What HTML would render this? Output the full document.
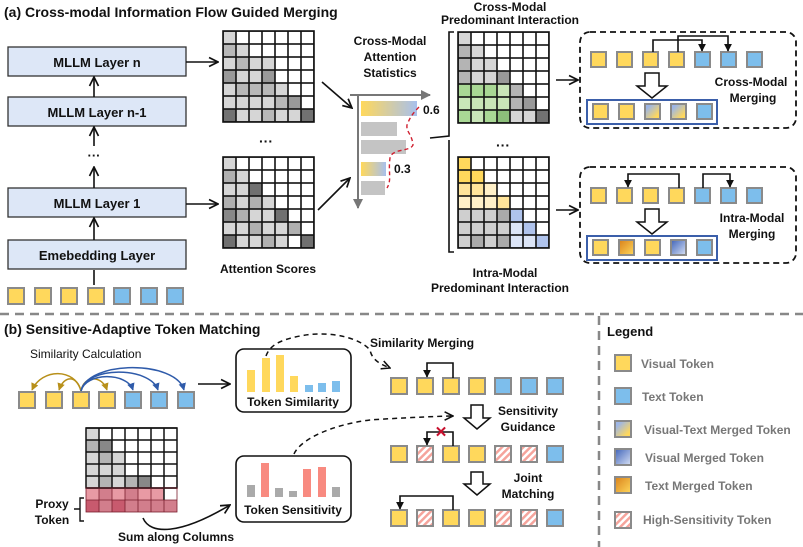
<!DOCTYPE html>
<html><head><meta charset="utf-8"><style>
body{margin:0;background:#fff}
svg{display:block;font-family:"Liberation Sans",sans-serif}
.y{fill:#FFD85C;stroke:#8a8a8a;stroke-width:2}
.b{fill:#7DBEEC;stroke:#8a8a8a;stroke-width:2}
.h{fill:url(#hatch);stroke:#8a8a8a;stroke-width:2}
.t{font-weight:bold;fill:#111}
.lg{fill:#777;font-weight:bold;font-size:12px}
.ln{stroke:#111;stroke-width:1.6;fill:none}
</style></head><body>
<svg width="803" height="547" viewBox="0 0 803 547" xmlns="http://www.w3.org/2000/svg">
<defs>
<marker id="ar" viewBox="0 0 10 10" refX="9" refY="5" markerWidth="7" markerHeight="7" orient="auto-start-reverse"><path d="M1,1 L9,5 L1,9" fill="none" stroke="#111" stroke-width="1.5"/></marker>
<marker id="af" viewBox="0 0 10 10" refX="9" refY="5" markerWidth="5" markerHeight="5" orient="auto"><path d="M0,0 L10,5 L0,10z" fill="#111"/></marker>
<marker id="ay" viewBox="0 0 10 10" refX="9" refY="5" markerWidth="5" markerHeight="5" orient="auto"><path d="M0,0 L10,5 L0,10z" fill="#B8901A"/></marker>
<marker id="ab" viewBox="0 0 10 10" refX="9" refY="5" markerWidth="5" markerHeight="5" orient="auto"><path d="M0,0 L10,5 L0,10z" fill="#2F5BAA"/></marker>
<marker id="ag" viewBox="0 0 10 10" refX="9" refY="5" markerWidth="5" markerHeight="5" orient="auto"><path d="M0,0 L10,5 L0,10z" fill="#777"/></marker>
<linearGradient id="bar" x1="0" x2="1"><stop offset="0" stop-color="#FFD85C"/><stop offset="1" stop-color="#A8C0EC"/></linearGradient>
<linearGradient id="vt" x1="0" y1="0" x2="1" y2="1"><stop offset="0.2" stop-color="#9DB6E6"/><stop offset="0.8" stop-color="#FFD85C"/></linearGradient>
<linearGradient id="vm" x1="0" y1="0" x2="1" y2="1"><stop offset="0" stop-color="#3F63B8"/><stop offset="1" stop-color="#D8E2F6"/></linearGradient>
<linearGradient id="tm" x1="0" y1="0" x2="1" y2="1"><stop offset="0" stop-color="#D9801A"/><stop offset="1" stop-color="#FFD85C"/></linearGradient>
<pattern id="hatch" width="5" height="5" patternUnits="userSpaceOnUse" patternTransform="rotate(45)"><rect width="5" height="5" fill="#fff"/><rect width="2.5" height="5" fill="#F5A49C"/></pattern>
<pattern id="grid" width="13" height="13" patternUnits="userSpaceOnUse"><rect width="13" height="13" fill="none" stroke="#111" stroke-width="1.6"/></pattern>
</defs>

<!-- (a) -->
<text x="4" y="17" class="t" font-size="14">(a) Cross-modal Information Flow Guided Merging</text>
<g font-size="13">
<rect x="8" y="47" width="178" height="29" fill="#DDE7F7" stroke="#333" stroke-width="1.3"/><text x="97" y="67" text-anchor="middle" class="t">MLLM Layer n</text>
<rect x="8" y="97" width="178" height="29" fill="#DDE7F7" stroke="#333" stroke-width="1.3"/><text x="97" y="117" text-anchor="middle" class="t">MLLM Layer n-1</text>
<text x="94" y="160" text-anchor="middle" class="t">···</text>
<rect x="8" y="188" width="178" height="29" fill="#DDE7F7" stroke="#333" stroke-width="1.3"/><text x="97" y="208" text-anchor="middle" class="t">MLLM Layer 1</text>
<rect x="8" y="240" width="178" height="29" fill="#DDE7F7" stroke="#333" stroke-width="1.3"/><text x="97" y="260" text-anchor="middle" class="t">Emebedding Layer</text>
</g>
<g class="ln" marker-end="url(#ar)">
<line x1="94" y1="97" x2="94" y2="77"/><line x1="94" y1="146" x2="94" y2="127"/><line x1="94" y1="188" x2="94" y2="167"/><line x1="94" y1="240" x2="94" y2="218"/>
<line x1="186" y1="62" x2="218" y2="62"/><line x1="186" y1="204" x2="218" y2="204"/>
<line x1="322" y1="82" x2="352" y2="108"/><line x1="318" y1="210" x2="350" y2="178"/>
</g>
<line x1="94" y1="270" x2="94" y2="285" stroke="#111" stroke-width="1.6"/>
<rect class="y" x="8" y="288" width="16" height="16"/><rect class="y" x="35" y="288" width="16" height="16"/><rect class="y" x="61" y="288" width="16" height="16"/><rect class="y" x="88" y="288" width="16" height="16"/><rect class="b" x="114" y="288" width="16" height="16"/><rect class="b" x="141" y="288" width="16" height="16"/><rect class="b" x="167" y="288" width="16" height="16"/>

<!-- top attention matrix -->
<g transform="translate(223,31)">
<rect width="91" height="91" fill="#fff"/>
<g fill="#d6d6d6"><rect x="0" y="0" width="13" height="13"/><rect x="13" y="13" width="13" height="13"/><rect x="0" y="26" width="13" height="26"/><rect x="26" y="26" width="26" height="13"/><rect x="13" y="39" width="26" height="13"/><rect x="0" y="52" width="13" height="13"/><rect x="0" y="65" width="52" height="13"/><rect x="52" y="52" width="13" height="13"/><rect x="13" y="78" width="65" height="13"/></g>
<g fill="#b8b8b8"><rect x="0" y="13" width="13" height="13"/><rect x="13" y="26" width="13" height="13"/><rect x="13" y="52" width="39" height="13"/><rect x="52" y="65" width="13" height="13"/><rect x="39" y="78" width="13" height="13"/></g>
<g fill="#999"><rect x="0" y="39" width="13" height="13"/><rect x="39" y="39" width="13" height="13"/><rect x="65" y="65" width="13" height="13"/></g>
<g fill="#727272"><rect x="0" y="78" width="13" height="13"/><rect x="78" y="78" width="13" height="13"/></g>
<rect width="91" height="91" fill="url(#grid)" stroke="#111" stroke-width="1.6"/>
</g>
<text x="266" y="146" text-anchor="middle" class="t" font-size="14">···</text>
<!-- bottom attention matrix -->
<g transform="translate(223,157)">
<rect width="91" height="91" fill="#fff"/>
<g fill="#d6d6d6"><rect x="0" y="0" width="13" height="13"/><rect x="13" y="13" width="13" height="13"/><rect x="0" y="26" width="26" height="13"/><rect x="13" y="39" width="13" height="13"/><rect x="39" y="39" width="13" height="13"/><rect x="26" y="52" width="26" height="13"/><rect x="0" y="65" width="26" height="13"/><rect x="39" y="65" width="26" height="13"/><rect x="13" y="78" width="26" height="13"/><rect x="52" y="78" width="13" height="13"/></g>
<g fill="#b0b0b0"><rect x="0" y="13" width="13" height="13"/><rect x="0" y="39" width="13" height="13"/><rect x="26" y="39" width="13" height="13"/><rect x="13" y="52" width="13" height="13"/><rect x="26" y="65" width="13" height="13"/><rect x="65" y="65" width="13" height="13"/><rect x="39" y="78" width="13" height="13"/></g>
<g fill="#888"><rect x="0" y="52" width="13" height="13"/></g>
<g fill="#707070"><rect x="26" y="26" width="13" height="13"/><rect x="52" y="52" width="13" height="13"/><rect x="0" y="78" width="13" height="13"/><rect x="78" y="78" width="13" height="13"/></g>
<rect width="91" height="91" fill="url(#grid)" stroke="#111" stroke-width="1.6"/>
</g>
<text x="268" y="273" text-anchor="middle" class="t" font-size="12">Attention Scores</text>

<!-- stats -->
<g class="t" font-size="12" text-anchor="middle"><text x="390" y="45">Cross-Modal</text><text x="390" y="61">Attention</text><text x="390" y="77">Statistics</text></g>
<line x1="358" y1="95" x2="358" y2="208" stroke="#777" stroke-width="2" marker-end="url(#ag)"/>
<line x1="350" y1="95" x2="430" y2="95" stroke="#777" stroke-width="2" marker-end="url(#ag)"/>
<rect x="361" y="101" width="56" height="15" fill="url(#bar)"/>
<rect x="361" y="122" width="36" height="14" fill="#c4c4c4"/>
<rect x="361" y="140" width="45" height="14" fill="#c4c4c4"/>
<rect x="361" y="162" width="25" height="14" fill="url(#bar)"/>
<rect x="361" y="181" width="24" height="14" fill="#c4c4c4"/>
<path d="M419,107 C414,112 410,117 407,125 C406,132 412,134 413,145 C410,152 392,148 390,158 C388,172 392,180 387,188" fill="none" stroke="#D02030" stroke-width="1.4" stroke-dasharray="4,3"/>
<text x="423" y="114" class="t" font-size="12">0.6</text>
<text x="394" y="173" class="t" font-size="12">0.3</text>
<!-- brace -->
<path d="M454,32 L449,32 L449,136 L430,138 M449,140 L449,252 L454,252" fill="none" stroke="#111" stroke-width="1.6"/>

<g class="t" font-size="12" text-anchor="middle"><text x="510" y="11">Cross-Modal</text><text x="510" y="24">Predominant Interaction</text>
<text x="505" y="277">Intra-Modal</text><text x="500" y="292">Predominant Interaction</text></g>

<!-- green matrix -->
<g transform="translate(458,32)">
<rect width="91" height="91" fill="#fff"/>
<g fill="#d6d6d6"><rect x="0" y="0" width="13" height="13"/><rect x="13" y="13" width="13" height="13"/><rect x="13" y="26" width="26" height="13"/><rect x="13" y="39" width="26" height="13"/><rect x="65" y="65" width="13" height="13"/><rect x="52" y="78" width="26" height="13"/></g>
<g fill="#b4b4b4"><rect x="0" y="13" width="13" height="13"/><rect x="0" y="26" width="13" height="13"/><rect x="0" y="39" width="13" height="13"/><rect x="52" y="52" width="13" height="13"/><rect x="52" y="65" width="13" height="13"/></g>
<g fill="#999"><rect x="39" y="39" width="13" height="13"/><rect x="65" y="65" width="13" height="13"/></g>
<rect x="78" y="78" width="13" height="13" fill="#727272"/>
<g fill="#C9E6B8"><rect x="0" y="52" width="52" height="39"/></g>
<g fill="#A9D895"><rect x="0" y="52" width="13" height="13"/><rect x="13" y="52" width="13" height="13"/><rect x="26" y="52" width="13" height="13"/><rect x="0" y="78" width="13" height="13"/><rect x="26" y="78" width="13" height="13"/></g>
<rect x="39" y="78" width="13" height="13" fill="#8CBF7A"/>
<rect width="91" height="91" fill="url(#grid)" stroke="#111" stroke-width="1.6"/>
</g>
<text x="503" y="150" text-anchor="middle" class="t" font-size="14">···</text>
<!-- intra matrix -->
<g transform="translate(458,157)">
<rect width="91" height="91" fill="#fff"/>
<g fill="#FFD85C"><rect x="0" y="0" width="13" height="13"/><rect x="0" y="13" width="26" height="13"/></g>
<g fill="#FFE49A"><rect x="0" y="26" width="39" height="13"/><rect x="39" y="39" width="13" height="13"/></g>
<g fill="#FFF0C8"><rect x="0" y="39" width="39" height="13"/><rect x="26" y="26" width="13" height="13"/></g>
<g fill="#cfcfcf"><rect x="0" y="52" width="52" height="39"/></g>
<g fill="#aaa"><rect x="39" y="52" width="13" height="13"/><rect x="13" y="78" width="13" height="13"/><rect x="39" y="78" width="13" height="13"/></g>
<g fill="#DCE5F7"><rect x="52" y="65" width="13" height="13"/><rect x="52" y="78" width="26" height="13"/></g>
<g fill="#AFC3EC"><rect x="52" y="52" width="13" height="13"/><rect x="65" y="65" width="13" height="13"/><rect x="78" y="78" width="13" height="13"/></g>
<rect width="91" height="91" fill="url(#grid)" stroke="#111" stroke-width="1.6"/>
</g>
<g class="ln" marker-end="url(#ar)"><line x1="556" y1="80" x2="578" y2="80"/><line x1="556" y1="210" x2="578" y2="210"/></g>

<!-- cross-modal box -->
<rect x="580" y="32" width="216" height="96" rx="10" fill="none" stroke="#111" stroke-width="1.8" stroke-dasharray="6,4"/>
<rect class="y" x="591" y="52" width="15" height="15"/><rect class="y" x="617" y="52" width="15" height="15"/><rect class="y" x="643" y="52" width="15" height="15"/><rect class="y" x="669" y="52" width="15" height="15"/><rect class="b" x="695" y="52" width="15" height="15"/><rect class="b" x="721" y="52" width="15" height="15"/><rect class="b" x="747" y="52" width="15" height="15"/>
<path d="M653,52 V40 H702 V51" class="ln" marker-end="url(#af)"/><path d="M678,52 V36 H728 V51" class="ln" marker-end="url(#af)"/>
<path d="M645,73 H659 V86 H667 L652,98 L637,86 H645Z" fill="#fff" stroke="#111" stroke-width="1.5"/>
<rect x="587" y="100" width="130" height="24" fill="none" stroke="#3B5FAA" stroke-width="2"/>
<rect class="y" x="593" y="104" width="15" height="15"/><rect class="y" x="619" y="104" width="15" height="15"/><rect x="645" y="104" width="15" height="15" fill="url(#vt)" stroke="#8a8a8a" stroke-width="2"/><rect x="671" y="104" width="15" height="15" fill="url(#vt)" stroke="#8a8a8a" stroke-width="2"/><rect class="b" x="697" y="104" width="15" height="15"/>
<g class="t" font-size="12" text-anchor="middle"><text x="751" y="86">Cross-Modal</text><text x="753" y="102">Merging</text></g>

<!-- intra-modal box -->
<rect x="580" y="167" width="216" height="96" rx="10" fill="none" stroke="#111" stroke-width="1.8" stroke-dasharray="6,4"/>
<rect class="y" x="591" y="188" width="15" height="15"/><rect class="y" x="617" y="188" width="15" height="15"/><rect class="y" x="643" y="188" width="15" height="15"/><rect class="y" x="669" y="188" width="15" height="15"/><rect class="b" x="695" y="188" width="15" height="15"/><rect class="b" x="721" y="188" width="15" height="15"/><rect class="b" x="747" y="188" width="15" height="15"/>
<path d="M679,188 V174 H628 V187" class="ln" marker-end="url(#af)"/><path d="M703,188 V174 H730 V187" class="ln" marker-end="url(#af)"/>
<path d="M645,209 H659 V222 H667 L652,234 L637,222 H645Z" fill="#fff" stroke="#111" stroke-width="1.5"/>
<rect x="587" y="236" width="130" height="24" fill="none" stroke="#3B5FAA" stroke-width="2"/>
<rect class="y" x="593" y="240" width="15" height="15"/><rect x="619" y="240" width="15" height="15" fill="url(#tm)" stroke="#8a8a8a" stroke-width="2"/><rect class="y" x="645" y="240" width="15" height="15"/><rect x="671" y="240" width="15" height="15" fill="url(#vm)" stroke="#8a8a8a" stroke-width="2"/><rect class="b" x="697" y="240" width="15" height="15"/>
<g class="t" font-size="12" text-anchor="middle"><text x="752" y="222">Intra-Modal</text><text x="752" y="238">Merging</text></g>

<!-- dividers -->
<line x1="0" y1="314" x2="803" y2="314" stroke="#888" stroke-width="2.5" stroke-dasharray="9,6"/>
<line x1="599" y1="316" x2="599" y2="547" stroke="#888" stroke-width="2.5" stroke-dasharray="9,6"/>

<!-- (b) -->
<text x="4" y="334" class="t" font-size="14">(b) Sensitive-Adaptive Token Matching</text>
<text x="30" y="358" font-size="12" fill="#111">Similarity Calculation</text>
<rect class="y" x="19" y="392" width="16" height="16"/><rect class="y" x="46" y="392" width="16" height="16"/><rect class="y" x="73" y="392" width="16" height="16"/><rect class="y" x="99" y="392" width="16" height="16"/><rect class="b" x="125" y="392" width="16" height="16"/><rect class="b" x="151" y="392" width="16" height="16"/><rect class="b" x="178" y="392" width="16" height="16"/>
<g fill="none" stroke-width="1.5">
<path d="M81,391 C75,368 42,368 32,390" stroke="#B8901A" marker-end="url(#ay)"/>
<path d="M81,391 C77,375 64,375 59,390" stroke="#B8901A" marker-end="url(#ay)"/>
<path d="M81,391 C84,375 102,375 107,390" stroke="#B8901A" marker-end="url(#ay)"/>
<path d="M81,391 C86,372 127,372 133,390" stroke="#2F5BAA" marker-end="url(#ab)"/>
<path d="M81,391 C86,366 150,366 158,390" stroke="#2F5BAA" marker-end="url(#ab)"/>
<path d="M81,391 C88,360 176,360 184,390" stroke="#2F5BAA" marker-end="url(#ab)"/>
</g>
<line x1="198" y1="384" x2="230" y2="384" class="ln" marker-end="url(#ar)"/>
<rect x="236" y="349" width="115" height="63" rx="8" fill="#fff" stroke="#111" stroke-width="1.6"/>
<g fill="#FFD85C"><rect x="247" y="370" width="8" height="22"/><rect x="262" y="358" width="8" height="34"/><rect x="276" y="355" width="8" height="37"/><rect x="290" y="376" width="8" height="16"/></g>
<g fill="#7DBEEC"><rect x="305" y="385" width="8" height="7"/><rect x="318" y="383" width="8" height="9"/><rect x="332" y="381" width="8" height="11"/></g>
<text x="293" y="406" text-anchor="middle" class="t" font-size="12">Token Similarity</text>
<path d="M266,356 C270,345 280,340 300,336 C330,330 360,338 370,350 C372,360 380,364 390,368" fill="none" stroke="#111" stroke-width="1.5" stroke-dasharray="5,4" marker-end="url(#ar)"/>

<!-- sensitivity matrix -->
<g transform="translate(86,428)">
<rect width="91" height="84" fill="#fff"/>
<g fill="#d6d6d6"><rect x="0" y="0" width="13" height="12"/><rect x="0" y="24" width="13" height="24"/><rect x="13" y="36" width="26" height="12"/><rect x="26" y="24" width="13" height="12"/><rect x="0" y="48" width="13" height="12"/><rect x="26" y="48" width="13" height="12"/><rect x="52" y="48" width="13" height="12"/></g>
<g fill="#b4b4b4"><rect x="0" y="12" width="13" height="12"/><rect x="13" y="12" width="13" height="12"/><rect x="13" y="24" width="13" height="12"/><rect x="13" y="48" width="13" height="12"/><rect x="39" y="48" width="13" height="12"/></g>
<g fill="#888"><rect x="13" y="12" width="13" height="12"/><rect x="52" y="48" width="13" height="12"/></g>
<g fill="#E89AA4"><rect x="0" y="60" width="78" height="12"/></g>
<g fill="#D27E8C"><rect x="13" y="60" width="13" height="12"/><rect x="39" y="60" width="13" height="12"/><rect x="0" y="72" width="91" height="12"/></g>
<g fill="#C85A6E"><rect x="0" y="72" width="13" height="12"/><rect x="26" y="72" width="13" height="12"/></g>
<g stroke="#111" stroke-width="1.5" fill="none"><path d="M0,0H91M0,12H91M0,24H91M0,36H91M0,48H91M0,60H91"/><path d="M13,0V60M26,0V60M39,0V60M52,0V60M65,0V60M78,0V72"/><rect width="91" height="60"/></g>
<g stroke="#7a1f2e" stroke-width="0.8" fill="none"><path d="M0,72H91M13,60V84M26,60V84M39,60V84M52,60V84M65,60V84M78,72V84"/><rect x="0" y="60" width="91" height="24"/></g>
</g>
<g class="t" font-size="12" text-anchor="middle"><text x="52" y="508">Proxy</text><text x="52" y="524">Token</text><text x="176" y="541">Sum along Columns</text></g>
<path d="M84,498 H80 V509 H74 M80,509 V521 H84" fill="none" stroke="#111" stroke-width="1.4"/>
<path d="M143,518 C150,535 180,535 230,505" fill="none" stroke="#111" stroke-width="1.6" marker-end="url(#ar)"/>
<rect x="236" y="456" width="115" height="66" rx="8" fill="#fff" stroke="#111" stroke-width="1.6"/>
<g fill="#aaa"><rect x="247" y="485" width="8" height="12"/><rect x="275" y="488" width="8" height="9"/><rect x="289" y="491" width="8" height="6"/><rect x="332" y="487" width="8" height="10"/></g>
<g fill="#F88A80"><rect x="261" y="463" width="8" height="34"/><rect x="303" y="469" width="8" height="28"/><rect x="318" y="467" width="8" height="30"/></g>
<text x="293" y="514" text-anchor="middle" class="t" font-size="12">Token Sensitivity</text>
<path d="M294,454 C300,440 330,425 370,420 C380,419 440,416 453,416" fill="none" stroke="#111" stroke-width="1.5" stroke-dasharray="5,4" marker-end="url(#ar)"/>

<!-- right of b -->
<text x="370" y="347" class="t" font-size="12">Similarity Merging</text>
<rect class="y" x="391" y="378" width="16" height="16"/><rect class="y" x="417" y="378" width="16" height="16"/><rect class="y" x="443" y="378" width="16" height="16"/><rect class="y" x="469" y="378" width="16" height="16"/><rect class="b" x="495" y="378" width="16" height="16"/><rect class="b" x="521" y="378" width="16" height="16"/><rect class="b" x="547" y="378" width="16" height="16"/>
<path d="M453,378 V363 H427 V377" class="ln" marker-end="url(#af)"/>
<path d="M471,405 H483 V418 H490 L477,429 L464,418 H471Z" fill="#fff" stroke="#111" stroke-width="1.5"/>
<g class="t" font-size="12" text-anchor="middle"><text x="528" y="415">Sensitivity</text><text x="528" y="431">Guidance</text></g>
<rect class="y" x="391" y="446" width="16" height="16"/><rect class="h" x="417" y="446" width="16" height="16"/><rect class="y" x="443" y="446" width="16" height="16"/><rect class="y" x="469" y="446" width="16" height="16"/><rect class="h" x="495" y="446" width="16" height="16"/><rect class="h" x="521" y="446" width="16" height="16"/><rect class="b" x="547" y="446" width="16" height="16"/>
<path d="M453,446 V432 H427 V445" class="ln" marker-end="url(#af)"/>
<text x="441" y="437" text-anchor="middle" font-size="15" font-weight="bold" fill="#C8102E">✕</text>
<path d="M471,472 H483 V484 H490 L477,495 L464,484 H471Z" fill="#fff" stroke="#111" stroke-width="1.5"/>
<g class="t" font-size="12" text-anchor="middle"><text x="528" y="482">Joint</text><text x="528" y="498">Matching</text></g>
<rect class="y" x="391" y="510" width="16" height="16"/><rect class="h" x="417" y="510" width="16" height="16"/><rect class="y" x="443" y="510" width="16" height="16"/><rect class="y" x="469" y="510" width="16" height="16"/><rect class="h" x="495" y="510" width="16" height="16"/><rect class="h" x="521" y="510" width="16" height="16"/><rect class="b" x="547" y="510" width="16" height="16"/>
<path d="M453,510 V496 H400 V509" class="ln" marker-end="url(#af)"/>

<!-- legend -->
<text x="607" y="336" class="t" font-size="13">Legend</text>
<rect class="y" x="615" y="355" width="16" height="16"/><text x="641" y="368" class="lg">Visual Token</text>
<rect class="b" x="615" y="388" width="16" height="16"/><text x="642" y="401" class="lg">Text Token</text>
<rect x="615" y="421" width="16" height="16" fill="url(#vt)" stroke="#8a8a8a" stroke-width="2"/><text x="644" y="434" class="lg">Visual-Text Merged Token</text>
<rect x="615" y="449" width="16" height="16" fill="url(#vm)" stroke="#8a8a8a" stroke-width="2"/><text x="645" y="462" class="lg">Visual Merged Token</text>
<rect x="615" y="477" width="16" height="16" fill="url(#tm)" stroke="#8a8a8a" stroke-width="2"/><text x="645" y="490" class="lg">Text Merged Token</text>
<rect class="h" x="615" y="512" width="16" height="16"/><text x="643" y="524" class="lg">High-Sensitivity Token</text>
</svg>
</body></html>
